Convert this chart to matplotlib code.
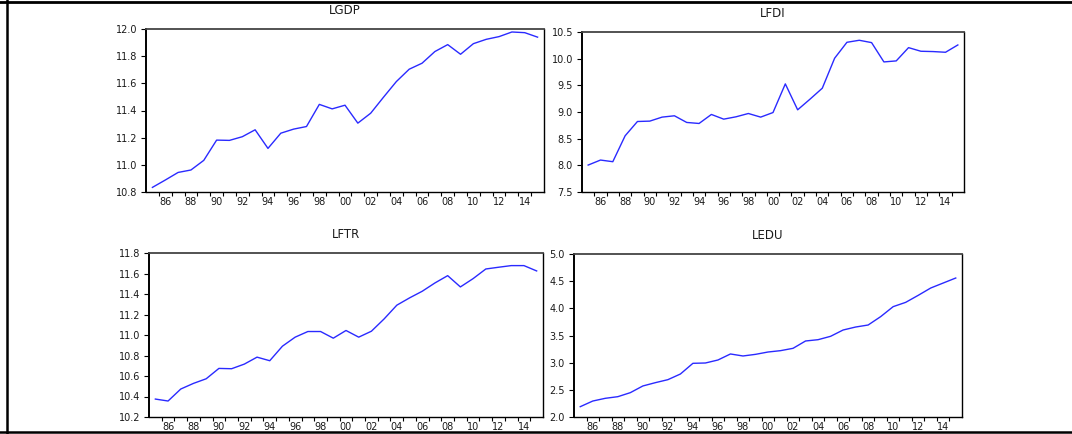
import matplotlib
matplotlib.use('Agg')
import matplotlib.pyplot as plt
from matplotlib.lines import Line2D

# ---- data ----
years = list(range(1985, 2016))

lgdp = [10.834, 10.888, 10.944, 10.962, 11.033, 11.182, 11.180, 11.207, 11.258, 11.121,
        11.233, 11.263, 11.282, 11.445, 11.412, 11.439, 11.307, 11.380, 11.498, 11.613,
        11.704, 11.748, 11.834, 11.885, 11.814, 11.892, 11.924, 11.944, 11.978, 11.973,
        11.940]

lfdi = [8.005, 8.099, 8.068, 8.554, 8.822, 8.829, 8.904, 8.929, 8.804, 8.785,
        8.954, 8.866, 8.910, 8.972, 8.904, 8.990, 9.527, 9.041, 9.240, 9.446,
        10.008, 10.307, 10.345, 10.301, 9.939, 9.958, 10.207, 10.139, 10.133, 10.120,
        10.257]

lftr = [10.375, 10.356, 10.473, 10.528, 10.573, 10.674, 10.671, 10.716, 10.784, 10.749,
        10.891, 10.979, 11.034, 11.034, 10.969, 11.044, 10.979, 11.037, 11.157, 11.291,
        11.362, 11.427, 11.508, 11.579, 11.469, 11.550, 11.644, 11.661, 11.677, 11.677,
        11.625]

ledu = [2.190, 2.294, 2.344, 2.374, 2.448, 2.571, 2.632, 2.687, 2.791, 2.988,
        2.994, 3.049, 3.160, 3.123, 3.153, 3.196, 3.221, 3.264, 3.399, 3.423,
        3.485, 3.601, 3.656, 3.693, 3.847, 4.031, 4.110, 4.239, 4.374, 4.466,
        4.558]

x_tick_years = [1986, 1988, 1990, 1992, 1994, 1996, 1998, 2000, 2002, 2004,
                2006, 2008, 2010, 2012, 2014]
x_tick_labels = ['86', '88', '90', '92', '94', '96', '98', '00', '02', '04',
                 '06', '08', '10', '12', '14']

titles = ['LGDP', 'LFDI', 'LFTR', 'LEDU']
series = [lgdp, lfdi, lftr, ledu]
y_ticks = [
    [10.8, 11.0, 11.2, 11.4, 11.6, 11.8, 12.0],
    [7.5, 8.0, 8.5, 9.0, 9.5, 10.0, 10.5],
    [10.2, 10.4, 10.6, 10.8, 11.0, 11.2, 11.4, 11.6, 11.8],
    [2.0, 2.5, 3.0, 3.5, 4.0, 4.5, 5.0],
]

# ---- layout ----
W, H = 1072, 434
rects_px = [  # left, top, right, bottom in pixels
    (146, 29, 544, 192),
    (582, 32, 964, 192),
    (149, 253, 543, 417),
    (574, 254, 962, 417),
]

fig = plt.figure(figsize=(W / 100, H / 100), dpi=100)
fig.patch.set_facecolor('white')

line_color = '#2a2aff'
text_color = '#1a1a1a'

for title, vals, yt, (l, t, r, b) in zip(titles, series, y_ticks, rects_px):
    ax = fig.add_axes([l / W, (H - b) / H, (r - l) / W, (b - t) / H])
    ax.plot(years, vals, color=line_color, lw=1.0)
    ax.set_xlim(years[0] - 0.5, years[-1] + 0.5)
    ax.set_ylim(yt[0], yt[-1])
    ax.set_yticks(yt)
    ax.set_yticklabels([f'{v:.1f}' for v in yt])
    ax.set_xticks(x_tick_years)
    ax.set_xticklabels(x_tick_labels)
    ax.set_xticks([y + 0.5 for y in years[:-1]], minor=True)
    ax.tick_params(axis='x', which='major', length=0, pad=3.5, labelsize=7,
                   labelcolor=text_color)
    ax.tick_params(axis='x', which='minor', length=3, width=0.8, direction='out')
    ax.tick_params(axis='y', which='major', length=3.5, width=0.8, direction='out',
                   pad=3, labelsize=7, labelcolor=text_color)
    for side, sp in ax.spines.items():
        sp.set_color('black')
        sp.set_linewidth(1.0)
    ax.spines['left'].set_linewidth(1.4)
    ax.spines['top'].set_color('#444444')
    ax.spines['top'].set_linewidth(1.3)
    ax.set_title(title, fontsize=8.5, pad=10.5, color=text_color)

# outer frame (top, left, bottom)
fig.add_artist(Line2D([0, 1], [1 - 1.5 / H, 1 - 1.5 / H], transform=fig.transFigure,
                      color='black', lw=2.0))
fig.add_artist(Line2D([7 / W, 7 / W], [0, 1], transform=fig.transFigure,
                      color='black', lw=1.8))
fig.add_artist(Line2D([0, 1], [2.5 / H, 2.5 / H], transform=fig.transFigure,
                      color='black', lw=1.8))

fig.savefig('out.png', dpi=100, facecolor='white')
